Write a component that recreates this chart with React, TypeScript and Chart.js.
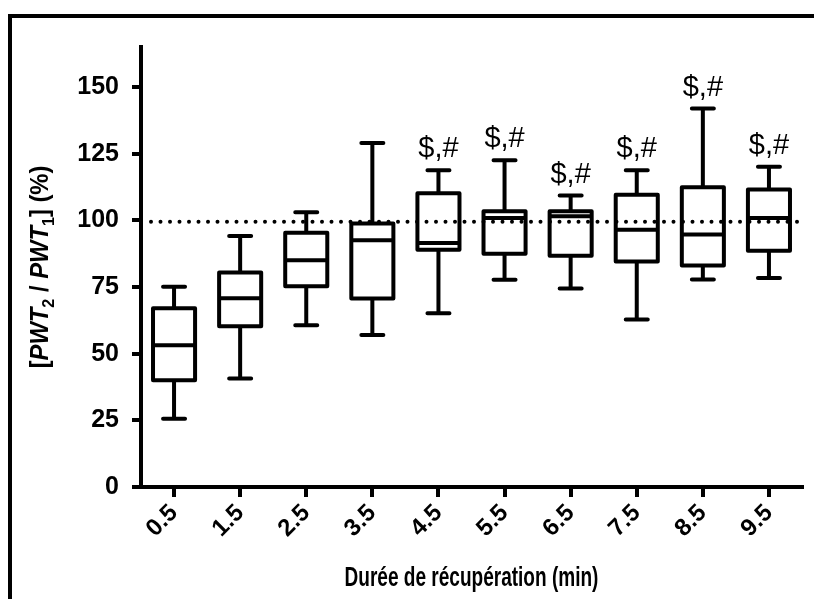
import React, { useEffect, useRef } from "react";
import { Chart, registerables } from "chart.js";
Chart.register(...registerables);

const categories = ["0.5", "1.5", "2.5", "3.5", "4.5", "5.5", "6.5", "7.5", "8.5", "9.5"];
const whiskerMin = [25.6, 40.7, 60.7, 57.0, 65.2, 77.7, 74.4, 62.8, 77.8, 78.4];
const q1 = [40.0, 60.3, 75.3, 70.7, 89.0, 87.5, 86.7, 84.6, 83.1, 88.6];
const median = [53.2, 70.8, 85.0, 92.5, 91.5, 100.9, 101.5, 96.5, 94.7, 100.9];
const q3 = [67.0, 80.4, 95.3, 98.8, 110.2, 103.4, 103.4, 109.6, 112.4, 111.6];
const whiskerMax = [75.1, 94.1, 103.0, 129.0, 118.8, 122.5, 109.3, 118.8, 141.9, 120.1];
const significance = ["", "", "", "", "$,#", "$,#", "$,#", "$,#", "$,#", "$,#"];
const yTicks = [0, 25, 50, 75, 100, 125, 150];
const yMin = 0;
const yMax = 165;
const referenceLine = 99.5;
const xTitle = "Durée de récupération (min)";

const FONT = "'Liberation Sans', Arial, Helvetica, sans-serif";

const boxPlugin = {
  id: "boxplot",
  beforeDraw(chart: any) {
    const ctx = chart.ctx;
    ctx.save();
    ctx.fillStyle = "#fff";
    ctx.fillRect(0, 0, chart.width, chart.height);
    ctx.fillStyle = "#000";
    ctx.fillRect(8, 14, 4, chart.height - 14);
    ctx.fillRect(8, 14, chart.width - 8, 4);
    ctx.restore();
  },
  afterDatasetsDraw(chart: any) {
    const ctx = chart.ctx;
    const ys = chart.scales.y;
    const area = chart.chartArea;
    const meta = chart.getDatasetMeta(0);
    ctx.save();
    const yr = ys.getPixelForValue(referenceLine);
    ctx.strokeStyle = "#000";
    ctx.lineWidth = 4;
    ctx.lineCap = "round";
    ctx.setLineDash([0, 9.5]);
    ctx.beginPath();
    ctx.moveTo(area.left + 10, yr);
    ctx.lineTo(area.right + 4, yr);
    ctx.stroke();
    ctx.setLineDash([]);

    meta.data.forEach((el: any, i: number) => {
      const x = el.x;
      const half = el.width / 2;
      const pMin = ys.getPixelForValue(whiskerMin[i]);
      const pQ1 = ys.getPixelForValue(q1[i]);
      const pMed = ys.getPixelForValue(median[i]);
      const pQ3 = ys.getPixelForValue(q3[i]);
      const pMax = ys.getPixelForValue(whiskerMax[i]);
      ctx.lineWidth = 4;
      ctx.lineJoin = "round";
      ctx.lineCap = "butt";
      ctx.strokeRect(x - half, pQ3, half * 2, pQ1 - pQ3);
      ctx.beginPath();
      ctx.moveTo(x - half, pMed);
      ctx.lineTo(x + half, pMed);
      ctx.moveTo(x, pQ3);
      ctx.lineTo(x, pMax);
      ctx.moveTo(x, pQ1);
      ctx.lineTo(x, pMin);
      ctx.stroke();
      ctx.lineCap = "round";
      ctx.beginPath();
      ctx.moveTo(x - 11, pMax);
      ctx.lineTo(x + 11, pMax);
      ctx.moveTo(x - 11, pMin);
      ctx.lineTo(x + 11, pMin);
      ctx.stroke();
      if (significance[i]) {
        ctx.fillStyle = "#000";
        ctx.font = `29px ${FONT}`;
        ctx.textAlign = "center";
        ctx.textBaseline = "alphabetic";
        ctx.fillText(significance[i], x, pMax - 13);
      }
    });
    ctx.restore();
  },
  afterDraw(chart: any) {
    const ctx = chart.ctx;
    const area = chart.chartArea;
    ctx.save();
    ctx.fillStyle = "#000";
    ctx.save();
    ctx.translate((area.left + area.right) / 2, 579);
    ctx.scale(0.705, 1);
    ctx.font = `bold 27px ${FONT}`;
    ctx.textAlign = "center";
    ctx.textBaseline = "middle";
    ctx.fillText(xTitle, 0, 0);
    ctx.restore();
    const size = 25;
    const sub = 17;
    const segs: { t: string; f: string; dy: number }[] = [
      { t: "[", f: `bold ${size}px ${FONT}`, dy: 0 },
      { t: "PWT", f: `italic bold ${size}px ${FONT}`, dy: 0 },
      { t: "2", f: `bold ${sub}px ${FONT}`, dy: 6 },
      { t: " / ", f: `bold ${size}px ${FONT}`, dy: 0 },
      { t: "PWT", f: `italic bold ${size}px ${FONT}`, dy: 0 },
      { t: "1", f: `bold ${sub}px ${FONT}`, dy: 6 },
      { t: "] (%)", f: `bold ${size}px ${FONT}`, dy: 0 },
    ];
    let total = 0;
    const widths = segs.map((s) => {
      ctx.font = s.f;
      const w = ctx.measureText(s.t).width;
      total += w;
      return w;
    });
    ctx.translate(48, (area.top + area.bottom) / 2);
    ctx.rotate(-Math.PI / 2);
    ctx.scale(0.95, 1);
    ctx.textAlign = "left";
    ctx.textBaseline = "alphabetic";
    let cx = -total / 2;
    segs.forEach((s, i) => {
      ctx.font = s.f;
      ctx.fillText(s.t, cx, s.dy);
      cx += widths[i];
    });
    ctx.restore();
  },
};

export default function App() {
  const ref = useRef<HTMLCanvasElement>(null);
  useEffect(() => {
    if (!ref.current) return;
    document.body.style.overflow = "hidden";
    const chart = new Chart(ref.current, {
      type: "bar",
      data: {
        labels: categories,
        datasets: [
          {
            data: categories.map((_, i) => [q1[i], q3[i]]) as any,
            backgroundColor: "#fff",
            borderWidth: 0,
            barPercentage: 42 / 66,
            categoryPercentage: 1,
          },
        ],
      },
      options: {
        responsive: false,
        animation: false,
        devicePixelRatio: 1,
        layout: { padding: { left: 0, top: 47, right: 12, bottom: 0 } },
        plugins: { legend: { display: false }, tooltip: { enabled: false }, title: { display: false } },
        scales: {
          x: {
            type: "category",
            offset: true,
            grid: { display: true, offset: false, drawOnChartArea: false, color: "#000", lineWidth: 4, tickLength: 10 },
            border: { display: true, color: "#000", width: 4 },
            ticks: {
              color: "#000",
              font: { family: FONT, size: 24, weight: "bold" },
              minRotation: 45,
              maxRotation: 45,
              padding: 2,
            },
            afterFit: (s: any) => {
              s.height = 599 - 487;
            },
          },
          y: {
            type: "linear",
            min: yMin,
            max: yMax,
            grid: { display: true, drawOnChartArea: false, color: "#000", lineWidth: 4, tickLength: 9 },
            border: { display: true, color: "#000", width: 4 },
            ticks: {
              color: "#000",
              font: { family: FONT, size: 25, weight: "bold" },
              padding: 13,
            },
            afterBuildTicks: (s: any) => {
              s.ticks = yTicks.map((v) => ({ value: v }));
            },
            afterFit: (s: any) => {
              s.width = 141;
            },
          },
        },
      } as any,
      plugins: [boxPlugin],
    });
    return () => chart.destroy();
  }, []);
  return (
    <canvas
      ref={ref}
      width={814}
      height={599}
      style={{ position: "fixed", left: 0, top: 0, width: 814, height: 599 }}
    />
  );
}
